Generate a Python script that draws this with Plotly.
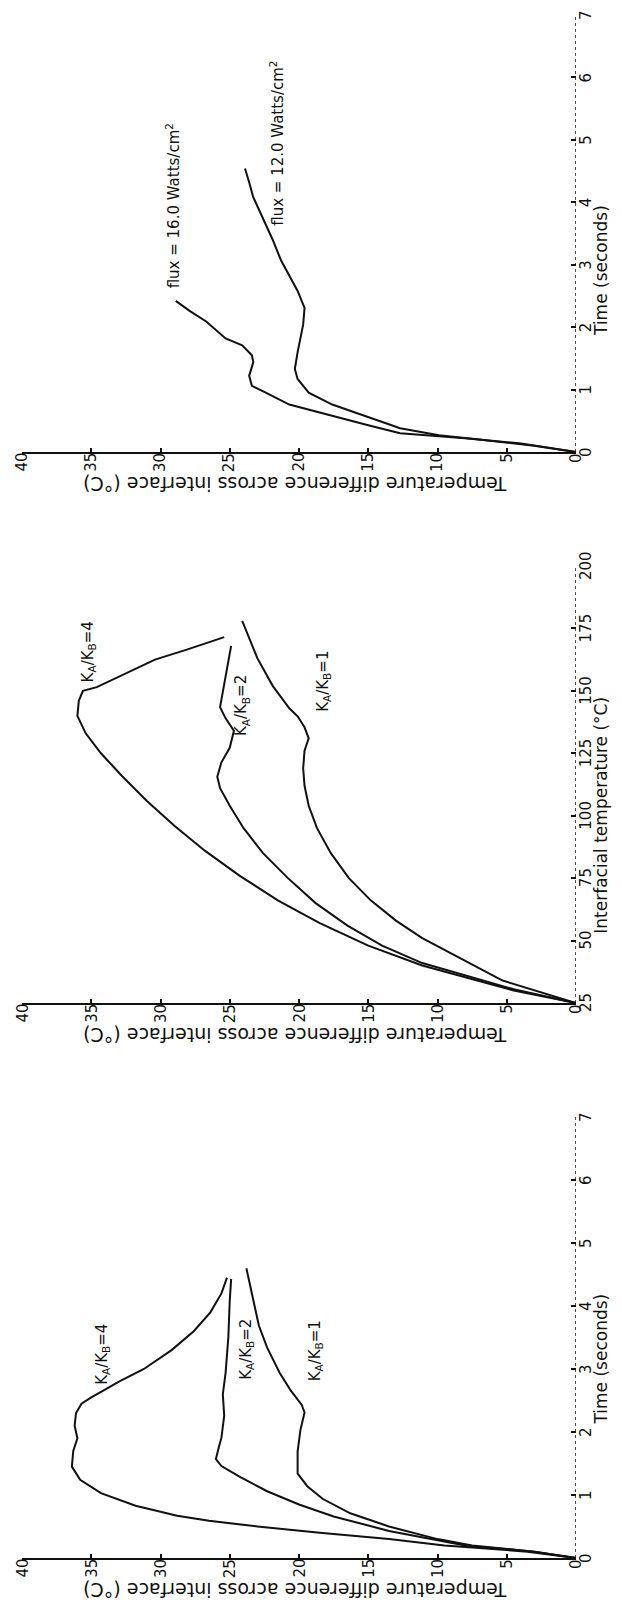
import plotly.graph_objects as go

# ---------------- data ----------------
# Top panel: temperature difference vs time for two heat fluxes
flux16_time = [0, 0.14, 0.22, 0.30, 0.43, 0.63, 0.76, 0.95, 1.06, 1.22, 1.44, 1.55, 1.71, 1.82, 2.09, 2.26, 2.42]
flux16_dT = [0, 4.1, 8.0, 12.7, 15.0, 18.4, 20.7, 22.4, 23.4, 23.6, 23.3, 23.4, 24.1, 25.3, 26.7, 27.9, 28.9]
flux12_time = [0, 0.10, 0.20, 0.27, 0.38, 0.60, 0.76, 0.95, 1.17, 1.33, 1.60, 2.04, 2.31, 2.58, 3.07, 3.40, 3.78, 4.08, 4.32, 4.54]
flux12_dT = [0, 3.0, 7.0, 9.9, 12.7, 15.6, 17.6, 19.3, 20.1, 20.3, 20.1, 19.7, 19.6, 20.1, 21.3, 21.9, 22.7, 23.3, 23.6, 23.9]

# Middle panel: temperature difference vs interfacial temperature
mid4_Ti = [25, 30, 40, 48, 57, 66, 76, 86, 96, 106, 116, 125, 133, 140, 146, 150, 151.5, 156.5, 162.5, 166.5, 171.5]
mid4_dT = [0, 4.5, 11.1, 15.0, 18.5, 21.5, 24.3, 26.8, 29.0, 31.0, 32.8, 34.3, 35.4, 36.0, 35.9, 35.6, 34.6, 32.7, 30.4, 28.1, 25.4]
mid2_Ti = [25, 30.5, 41, 48, 56, 65, 75, 85, 95, 104, 111, 115.6, 121.4, 127.2, 134, 139, 143.5, 153, 161, 168]
mid2_dT = [0, 4.5, 11.1, 14.0, 16.5, 18.8, 20.8, 22.6, 24.0, 25.0, 25.7, 25.9, 25.6, 25.0, 24.7, 25.3, 25.7, 25.4, 25.1, 24.9]
mid1_Ti = [25, 34, 51, 58, 66, 75, 85, 95, 104, 112, 119, 126, 131, 135.4, 139.8, 143, 152, 163, 178]
mid1_dT = [0, 5.3, 11.1, 13.0, 14.8, 16.4, 17.7, 18.7, 19.3, 19.6, 19.7, 19.6, 19.3, 19.6, 20.1, 20.7, 21.9, 23.0, 24.1]

# Bottom panel: temperature difference vs time for three conductivity ratios
bot4_time = [0, 0.10, 0.20, 0.30, 0.40, 0.50, 0.59, 0.67, 0.83, 1.03, 1.24, 1.45, 1.70, 1.90, 2.10, 2.30, 2.45, 2.55, 2.65, 2.80, 3.00, 3.30, 3.60, 3.90, 4.20, 4.45]
bot4_dT = [0, 3.5, 9.5, 13.5, 18.5, 23.0, 26.5, 28.8, 31.8, 34.3, 35.8, 36.4, 36.3, 36.0, 36.2, 36.1, 35.7, 35.0, 34.2, 33.0, 31.2, 29.2, 27.6, 26.4, 25.6, 25.2]
bot2_time = [0, 0.10, 0.20, 0.30, 0.43, 0.66, 0.85, 1.06, 1.29, 1.46, 1.57, 1.75, 1.91, 2.26, 2.60, 2.94, 3.51, 4.09, 4.43]
bot2_dT = [0, 3.0, 8.0, 10.5, 13.5, 17.5, 20.0, 22.3, 24.3, 25.6, 26.0, 25.8, 25.6, 25.4, 25.5, 25.3, 25.1, 25.0, 24.9]
bot1_time = [0, 0.10, 0.20, 0.30, 0.50, 0.71, 0.94, 1.14, 1.34, 1.69, 2.03, 2.31, 2.43, 2.66, 2.94, 3.34, 3.69, 4.09, 4.60]
bot1_dT = [0, 3.0, 7.5, 10.0, 13.5, 16.3, 18.3, 19.4, 20.1, 20.1, 19.9, 19.6, 19.8, 20.6, 21.4, 22.3, 22.9, 23.3, 23.8]

dT_ticks = [0, 5, 10, 15, 20, 25, 30, 35, 40]
time_ticks = [0, 1, 2, 3, 4, 5, 6, 7]
Ti_ticks = [25, 50, 75, 100, 125, 150, 175, 200]

dT_title = "Temperature difference across interface (°C)"
time_title = "Time (seconds)"
Ti_title = "Interfacial temperature (°C)"

# ---------------- figure ----------------
FONT = "DejaVu Sans"
INK = "#111111"
line = dict(color=INK, width=2)

fig = go.Figure()

# (x-axis id, y-axis id) per panel: top, middle, bottom
panels = [("x", "y"), ("x2", "y2"), ("x3", "y3")]

series = [
    (0, flux16_dT, flux16_time), (0, flux12_dT, flux12_time),
    (1, mid4_dT, mid4_Ti), (1, mid2_dT, mid2_Ti), (1, mid1_dT, mid1_Ti),
    (2, bot4_dT, bot4_time), (2, bot2_dT, bot2_time), (2, bot1_dT, bot1_time),
]
for p, xs, ys in series:
    xa, ya = panels[p]
    fig.add_trace(go.Scatter(x=xs, y=ys, mode="lines", line=line, xaxis=xa, yaxis=ya,
                             hoverinfo="skip"))

W, H = 622, 1613
M = dict(l=22, r=46, t=13, b=55)
plot_h = H - M["t"] - M["b"]


def frac(page_y):
    return (H - M["b"] - page_y) / plot_h


# vertical extent of each panel (zero line row, top tick row)
y_domains = [[frac(452), frac(15)], [frac(1003), frac(566)], [0.0, frac(1117)]]
y_ticks = [time_ticks, Ti_ticks, time_ticks]
y_ranges = [[0, 7], [25, 200], [0, 7]]

layout_axes = {}
for i, (xa, ya) in enumerate(panels):
    xkey = "xaxis" if i == 0 else f"xaxis{i + 1}"
    ykey = "yaxis" if i == 0 else f"yaxis{i + 1}"
    layout_axes[xkey] = dict(
        domain=[0, 1], anchor=ya, range=[40, 0],
        tickvals=dT_ticks, showticklabels=False,
        ticks="inside", ticklen=4, tickcolor=INK, tickwidth=1.5,
        showline=True, linecolor=INK, linewidth=1.5,
        showgrid=False, zeroline=False, automargin=False, fixedrange=True,
    )
    layout_axes[ykey] = dict(
        domain=y_domains[i], anchor=xa, side="right", range=y_ranges[i],
        tickvals=y_ticks[i], showticklabels=False,
        ticks="inside", ticklen=5, tickcolor=INK, tickwidth=1.5,
        showline=False, showgrid=False, zeroline=False, automargin=False, fixedrange=True,
    )

# dotted vertical axis line at zero temperature difference
shapes = []
for xa, ya in panels:
    shapes.append(dict(type="line", xref=xa, yref=f"{ya} domain", x0=0, x1=0, y0=0, y1=1,
                       line=dict(color=INK, width=1.5, dash="dot")))

tick_font = dict(family=FONT, size=15, color=INK)
annotations = []
for i, (xa, ya) in enumerate(panels):
    # rotated tick labels along the temperature-difference axis
    for v in dT_ticks:
        annotations.append(dict(text=str(v), xref=xa, yref=f"{ya} domain", x=v, y=0,
                                yanchor="top", xanchor="center", yshift=0, borderpad=0,
                                showarrow=False, textangle=-90, font=tick_font))
    # rotated tick labels along the vertical axis
    for v in y_ticks[i]:
        annotations.append(dict(text=str(v), xref=f"{xa} domain", yref=ya, x=1, y=v,
                                xanchor="left", yanchor="middle", xshift=0, borderpad=0,
                                showarrow=False, textangle=-90, font=tick_font))
    # horizontal axis title, printed upside down
    annotations.append(dict(text=dT_title, xref=f"{xa} domain", yref=f"{ya} domain",
                            x=0.493, y=0, yshift=-45, showarrow=False, textangle=180,
                            font=dict(family=FONT, size=19, color=INK)))

title_font = dict(family=FONT, size=17, color=INK)
annotations.append(dict(text=time_title, xref="x domain", yref="y", x=1, y=2.9, xshift=37,
                        showarrow=False, textangle=-90, font=title_font))
annotations.append(dict(text=Ti_title, xref="x2 domain", yref="y2", x=1, y=100, xshift=37,
                        showarrow=False, textangle=-90, font=title_font))
annotations.append(dict(text=time_title, xref="x3 domain", yref="y3", x=1, y=3.15, xshift=37,
                        showarrow=False, textangle=-90, font=title_font))

lab_font = dict(family=FONT, size=15, color=INK)
curve_labels = [
    ("x", "y", 29.1, 3.95, "flux = 16.0 Watts/cm<sup>2</sup>"),
    ("x", "y", 21.6, 4.95, "flux = 12.0 Watts/cm<sup>2</sup>"),
    ("x2", "y2", 35.2, 165.6, "K<sub>A</sub>/K<sub>B</sub>=4"),
    ("x2", "y2", 24.1, 144, "K<sub>A</sub>/K<sub>B</sub>=2"),
    ("x2", "y2", 18.2, 154, "K<sub>A</sub>/K<sub>B</sub>=1"),
    ("x3", "y3", 34.2, 3.23, "K<sub>A</sub>/K<sub>B</sub>=4"),
    ("x3", "y3", 23.8, 3.31, "K<sub>A</sub>/K<sub>B</sub>=2"),
    ("x3", "y3", 18.8, 3.29, "K<sub>A</sub>/K<sub>B</sub>=1"),
]
for xa, ya, xv, yv, txt in curve_labels:
    annotations.append(dict(text=txt, xref=xa, yref=ya, x=xv, y=yv, showarrow=False,
                            textangle=-90, font=lab_font))

fig.update_layout(
    width=W, height=H, margin=M,
    paper_bgcolor="white", plot_bgcolor="white",
    showlegend=False,
    shapes=shapes, annotations=annotations,
    **layout_axes,
)

fig.write_html("out.html")
